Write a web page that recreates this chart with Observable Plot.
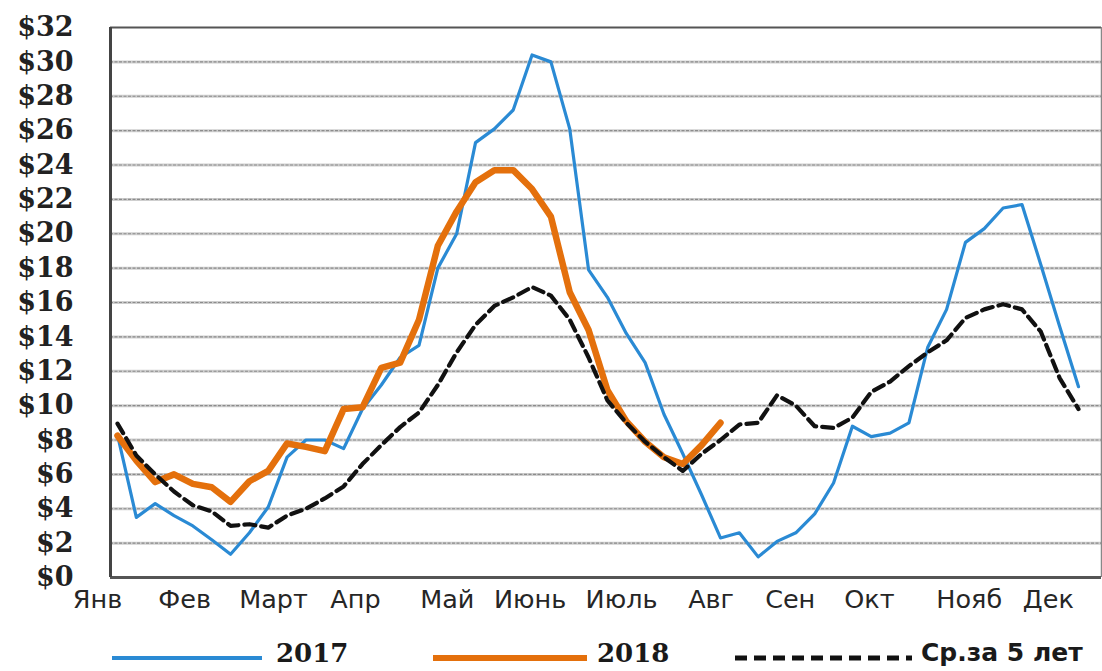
<!DOCTYPE html>
<html>
<head>
<meta charset="utf-8">
<script src="https://cdn.jsdelivr.net/npm/d3@7"></script>
<script src="https://cdn.jsdelivr.net/npm/@observablehq/plot@0.6"></script>
<style>
  html, body { margin: 0; padding: 0; background: #fff; }
  #wrap { position: relative; width: 1102px; height: 671px; overflow: hidden; }
  #legend { position: absolute; left: 0; top: 638px; width: 1102px; height: 30px; }
  .lg-item { position: absolute; top: 0; height: 30px; line-height: 30px; display: flex; align-items: center; }
  .lg-text { color: #1a1a1a; white-space: nowrap; }
</style>
</head>
<body>
<div id="wrap">
  <div id="chart"></div>
  <div id="legend"></div>
</div>
<script>
// ---- data ----
const months = ["Янв","Фев","Март","Апр","Май","Июнь","Июль","Авг","Сен","Окт","Нояб","Дек"];
const monthPos = [-1.06, 3.56, 8.28, 12.63, 17.5, 21.9, 26.75, 31.5, 35.7, 39.9, 45.2, 49.4];
const yTicks = [0,2,4,6,8,10,12,14,16,18,20,22,24,26,28,30,32];
const seriesNames = ["2017", "2018", "Ср.за 5 лет"];
const s2017 = [8.3,3.5,4.3,3.6,3.0,2.2,1.35,2.6,4.1,7.0,8.0,8.0,7.5,9.8,11.2,12.8,13.5,18.0,20.0,25.3,26.1,27.2,30.4,30.0,26.1,17.9,16.3,14.2,12.5,9.5,7.2,4.8,2.3,2.6,1.2,2.1,2.6,3.7,5.5,8.8,8.2,8.4,9.0,13.4,15.6,19.5,20.3,21.5,21.7,18.2,14.6,11.1];
const s2018 = [8.25,6.8,5.55,6.0,5.45,5.25,4.4,5.6,6.2,7.8,7.6,7.35,9.8,9.9,12.2,12.5,15.0,19.3,21.3,23.0,23.7,23.7,22.6,21.0,16.6,14.4,10.9,9.1,7.9,7.0,6.6,7.7,9.0];
const sAvg = [8.95,7.1,6.0,5.0,4.2,3.85,3.0,3.1,2.9,3.6,4.0,4.6,5.3,6.6,7.7,8.75,9.6,11.2,13.1,14.7,15.8,16.3,16.9,16.4,15.0,12.8,10.3,9.0,7.9,7.0,6.2,7.2,8.0,8.9,9.0,10.6,10.0,8.8,8.7,9.3,10.8,11.4,12.3,13.1,13.8,15.1,15.6,15.9,15.6,14.3,11.6,9.8];

const colors = {"2017": "#2a8ad4", "2018": "#e4700c", "Ср.за 5 лет": "#111111"};

const toRows = (arr) => arr.map((v, i) => ({week: i, value: v}));
const r2017 = toRows(s2017), r2018 = toRows(s2018), rAvg = toRows(sAvg);
const monthRows = months.map((m, i) => ({label: m, pos: monthPos[i]}));
const gridVals = yTicks.filter(v => v > 0 && v < 32);

const xDomain = [-0.3715, 52.22];

const chart = Plot.plot({
  width: 1102,
  height: 630,
  marginLeft: 110,
  marginRight: 1,
  marginTop: 27,
  marginBottom: 53,
  style: "font-family: 'DejaVu Serif', serif; font-weight: bold; font-size: 27px; color: #222; background: #fff; overflow: visible;",
  x: {domain: xDomain, axis: null},
  y: {domain: [0, 32], ticks: yTicks, tickFormat: d => "$" + d, tickSize: 0, tickPadding: 37, label: null},
  marks: [
    Plot.ruleY(gridVals, {stroke: "#cfcfcf", strokeWidth: 3}),
    Plot.ruleY(gridVals, {stroke: "#8c8c8c", strokeWidth: 1.2, strokeDasharray: "3,1.5"}),
    Plot.ruleY([32], {stroke: "#555", strokeWidth: 2}),
    Plot.ruleX([xDomain[1]], {stroke: "#888", strokeWidth: 1.5}),
    Plot.ruleY([0], {stroke: "#555", strokeWidth: 3}),
    Plot.ruleX([xDomain[0]], {stroke: "#444", strokeWidth: 3}),
    Plot.line(r2017, {x: "week", y: "value", stroke: colors["2017"], strokeWidth: 3.2, strokeLinejoin: "round"}),
    Plot.line(r2018, {x: "week", y: "value", stroke: colors["2018"], strokeWidth: 6.5, strokeLinejoin: "round", strokeLinecap: "round"}),
    Plot.line(rAvg, {x: "week", y: "value", stroke: colors["Ср.за 5 лет"], strokeWidth: 4.2, strokeDasharray: "11,6", strokeLinejoin: "round"}),
    Plot.text(monthRows, {x: "pos", text: "label", frameAnchor: "bottom", dy: 30,
      fontFamily: "'DejaVu Sans', sans-serif", fontWeight: "normal", fontSize: 25.5, fill: "#262626"})
  ]
});
document.getElementById("chart").appendChild(chart);

// ---- legend ----
const legendSpec = [
  {name: seriesNames[0], x0: 112, x1: 262, tx: 276, width: 4, dash: null, font: "bold 26px 'DejaVu Serif', serif"},
  {name: seriesNames[1], x0: 433, x1: 587, tx: 597, width: 6, dash: null, font: "bold 26px 'DejaVu Serif', serif"},
  {name: seriesNames[2], x0: 735, x1: 912, tx: 921, width: 5, dash: "12,7", font: "bold 25px 'DejaVu Sans', sans-serif"}
];
const legend = document.getElementById("legend");
legendSpec.forEach(s => {
  const ns = "http://www.w3.org/2000/svg";
  const sv = document.createElementNS(ns, "svg");
  sv.setAttribute("width", s.x1 - s.x0);
  sv.setAttribute("height", 30);
  sv.style.position = "absolute";
  sv.style.left = s.x0 + "px";
  sv.style.top = "0px";
  const ln = document.createElementNS(ns, "line");
  ln.setAttribute("x1", 0); ln.setAttribute("x2", s.x1 - s.x0);
  ln.setAttribute("y1", 20); ln.setAttribute("y2", 20);
  ln.setAttribute("stroke", colors[s.name]);
  ln.setAttribute("stroke-width", s.width);
  if (s.dash) ln.setAttribute("stroke-dasharray", s.dash);
  sv.appendChild(ln);
  legend.appendChild(sv);
  const t = document.createElement("div");
  t.className = "lg-item lg-text";
  t.style.left = s.tx + "px";
  t.style.font = s.font;
  t.style.lineHeight = "30px";
  t.textContent = s.name;
  legend.appendChild(t);
});
</script>
</body>
</html>
